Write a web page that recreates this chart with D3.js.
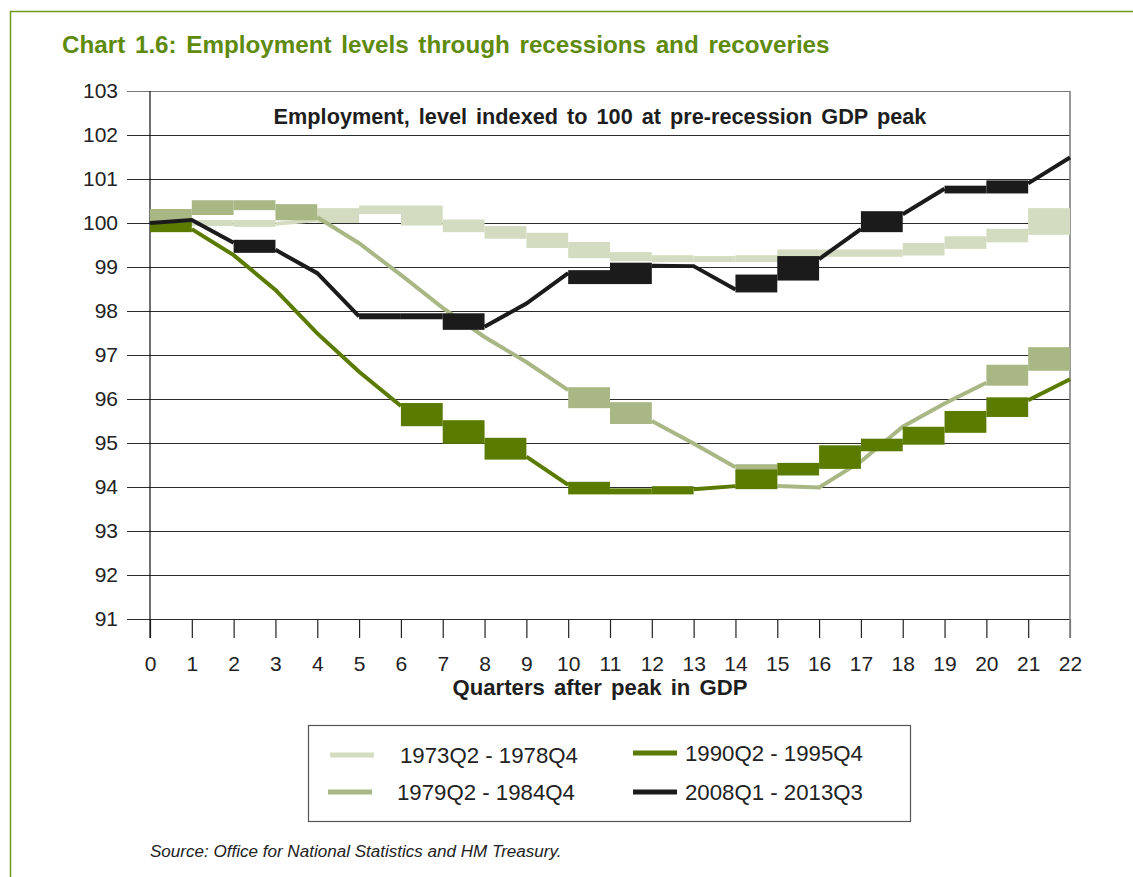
<!DOCTYPE html>
<html>
<head>
<meta charset="utf-8">
<script src="https://cdn.jsdelivr.net/npm/d3@7"></script>
<style>
  body { margin: 0; background: #fff; }
  svg { display: block; font-family: "Liberation Sans", Arial, sans-serif; }
</style>
</head>
<body>
<script>
var width = 1133;
var height = 877;

// quarters after GDP peak
var quarters = d3.range(0, 23);
var yTicks = d3.range(91, 104);

var names = ['1973Q2 - 1978Q4', '1979Q2 - 1984Q4', '1990Q2 - 1995Q4', '2008Q1 - 2013Q3'];

var s1973 = [100.0, 100.0, 100.0, 99.98, 100.07, 100.27, 100.33, 100.01, 99.86, 99.71, 99.5, 99.27,
             99.2, 99.18, 99.18, 99.2, 99.33, 99.3, 99.33, 99.48, 99.63, 99.8, 100.27];
var s1979 = [100.07, 100.25, 100.45, 100.36, 100.13, 99.54, 98.82, 98.07, 97.41, 96.84, 96.2, 95.86,
             95.5, 94.99, 94.45, 94.02, 93.99, 94.58, 95.37, 95.9, 96.37, 96.71, 97.11];
var s1990 = [99.95, 99.86, 99.27, 98.48, 97.49, 96.62, 95.84, 95.45, 95.05, 94.69, 94.05, 93.9,
             93.9, 93.95, 94.02, 94.33, 94.48, 94.88, 95.03, 95.3, 95.66, 95.97, 96.45];
var s2008 = [100.0, 100.07, 99.55, 99.39, 98.86, 97.88, 97.88, 97.88, 97.64, 98.17, 98.86, 98.68,
             99.03, 99.02, 98.49, 98.76, 99.18, 99.86, 100.2, 100.78, 100.74, 100.9, 101.49];

// segments that the original export drew as filled blocks (segment start index)
var blocks1973 = [0, 1, 2, 4, 5, 6, 7, 8, 9, 10, 11, 12, 13, 14, 15, 16, 17, 18, 19, 20, 21];
var blocks1979 = [0, 1, 2, 3, 10, 11, 14, 20, 21];
var blocks1990 = [0, 6, 7, 8, 10, 11, 12, 14, 15, 16, 17, 18, 19, 20];
var blocks2008 = [2, 5, 6, 7, 10, 11, 14, 15, 17, 19, 20];

var colors = ['#d3dcc0', '#a9b784', '#5a7b00', '#1a1b1a'];

var series = [
    {name: names[0], values: s1973, blocks: blocks1973, color: colors[0]},
    {name: names[1], values: s1979, blocks: blocks1979, color: colors[1]},
    {name: names[2], values: s1990, blocks: blocks1990, color: colors[2]},
    {name: names[3], values: s2008, blocks: blocks2008, color: colors[3]}
];

var plotL = 150, plotR = 1070, plotT = 91, plotB = 619;

var svg = d3.select('body')
    .append('svg')
    .attr('width', width)
    .attr('height', height);

// size text so it spans the same width as the original (with slightly wide word gaps)
function fitText(sel, target, gap) {
    var node = sel.node();
    var txt = sel.text();
    var spaces = (txt.match(/ /g) || []).length;
    var size = +sel.attr('font-size');
    var w = node.getComputedTextLength();
    var want = target - spaces * gap;
    sel.attr('font-size', size * want / w);
    sel.attr('word-spacing', gap);
}

// green frame
svg.append('path')
    .attr('d', 'M10.5,' + height + 'V11.5H' + width)
    .attr('fill', 'none')
    .attr('stroke', '#6e9a1c')
    .attr('stroke-width', 1.5);

var title = svg.append('text')
    .attr('x', 62)
    .attr('y', 53)
    .attr('font-size', 20)
    .attr('font-weight', 'bold')
    .attr('fill', '#5e8a0e')
    .text('Chart 1.6: Employment levels through recessions and recoveries');
fitText(title, 768, 3);

var xScale = d3.scaleLinear()
    .domain([0, 22])
    .range([plotL, plotR]);

var yScale = d3.scaleLinear()
    .domain([91, 103])
    .range([plotB, plotT]);

// gridlines + y labels
var yAxis = svg.append('g')
    .attr('transform', 'translate(' + plotR + ',0)')
    .call(d3.axisLeft(yScale).tickValues(yTicks).tickSize(plotR - 127).tickPadding(9).tickFormat(d3.format('d')));
yAxis.select('.domain').remove();
yAxis.selectAll('line')
    .attr('stroke', function (d) { return d === 103 ? '#777' : '#2b2b2b'; })
    .attr('stroke-width', 1.2);
yAxis.selectAll('text')
    .attr('font-size', 21)
    .attr('fill', '#222')
    .attr('font-family', '"Liberation Sans", Arial, sans-serif');

// x axis ticks + labels
var xAxis = svg.append('g')
    .attr('transform', 'translate(0,' + plotB + ')')
    .call(d3.axisBottom(xScale).tickValues(quarters).tickSize(19).tickPadding(18).tickFormat(d3.format('d')));
xAxis.select('.domain').remove();
xAxis.selectAll('line')
    .attr('stroke', function (d) { return d === 22 ? '#777' : '#222'; })
    .attr('stroke-width', 1.2);
xAxis.selectAll('text')
    .attr('font-size', 21)
    .attr('fill', '#222')
    .attr('font-family', '"Liberation Sans", Arial, sans-serif');

// left axis line and right border
svg.append('line')
    .attr('x1', plotL).attr('x2', plotL)
    .attr('y1', plotT).attr('y2', plotB + 19)
    .attr('stroke', '#111').attr('stroke-width', 1.2);
svg.append('line')
    .attr('x1', plotR).attr('x2', plotR)
    .attr('y1', plotT).attr('y2', plotB + 19)
    .attr('stroke', '#777').attr('stroke-width', 1.5);

var sub = svg.append('text')
    .attr('x', 600)
    .attr('y', 124)
    .attr('text-anchor', 'middle')
    .attr('font-size', 18)
    .attr('font-weight', 'bold')
    .attr('fill', '#1e1e1e')
    .text('Employment, level indexed to 100 at pre-recession GDP peak');
fitText(sub, 653, 3);

var line = d3.line()
    .x(function (d) { return xScale(d.i); })
    .y(function (d) { return yScale(d.v); });

var plot = svg.append('g');
var pad = 3;

series.forEach(function (s) {
    var g = plot.append('g');
    var pts = s.values.map(function (v, i) { return {i: i, v: v}; });

    // runs of plain line segments
    var runs = [];
    var cur = null;
    for (var i = 0; i < pts.length - 1; i++) {
        if (s.blocks.indexOf(i) >= 0) {
            cur = null;
            continue;
        }
        if (!cur) {
            cur = [pts[i]];
            runs.push(cur);
        }
        cur.push(pts[i + 1]);
    }

    g.selectAll('path')
        .data(runs)
        .enter()
        .append('path')
        .attr('d', line)
        .attr('fill', 'none')
        .attr('stroke', s.color)
        .attr('stroke-width', 4);

    g.selectAll('rect')
        .data(s.blocks)
        .enter()
        .append('rect')
        .attr('x', function (i) { return xScale(i); })
        .attr('width', function (i) { return xScale(i + 1) - xScale(i); })
        .attr('y', function (i) {
            return Math.min(yScale(s.values[i]), yScale(s.values[i + 1])) - pad;
        })
        .attr('height', function (i) {
            return Math.abs(yScale(s.values[i]) - yScale(s.values[i + 1])) + pad * 2;
        })
        .attr('fill', s.color);
});

var xt = svg.append('text')
    .attr('x', 600)
    .attr('y', 695)
    .attr('text-anchor', 'middle')
    .attr('font-size', 17)
    .attr('font-weight', 'bold')
    .attr('fill', '#1e1e1e')
    .text('Quarters after peak in GDP');
fitText(xt, 295, 3);

// legend
var legend = svg.append('g');
legend.append('rect')
    .attr('x', 308.5).attr('y', 725.5)
    .attr('width', 602).attr('height', 96)
    .attr('fill', '#fff')
    .attr('stroke', '#555')
    .attr('stroke-width', 1.2);

var legPos = [
    {sx: 330, tx: 400, y: 755},
    {sx: 328, tx: 397, y: 792},
    {sx: 633, tx: 685, y: 753},
    {sx: 633, tx: 685, y: 792}
];

series.forEach(function (s, k) {
    var p = legPos[k];
    legend.append('line')
        .attr('x1', p.sx).attr('x2', p.sx + 44)
        .attr('y1', p.y).attr('y2', p.y)
        .attr('stroke', s.color)
        .attr('stroke-width', 5);
    var t = legend.append('text')
        .attr('x', p.tx)
        .attr('y', p.y + 8)
        .attr('font-size', 18)
        .attr('fill', '#222')
        .text(s.name);
    fitText(t, 178, 0);
});

var src = svg.append('text')
    .attr('x', 150)
    .attr('y', 857)
    .attr('font-size', 13)
    .attr('font-style', 'italic')
    .attr('fill', '#222')
    .text('Source: Office for National Statistics and HM Treasury.');
fitText(src, 412, 0);
</script>
</body>
</html>
